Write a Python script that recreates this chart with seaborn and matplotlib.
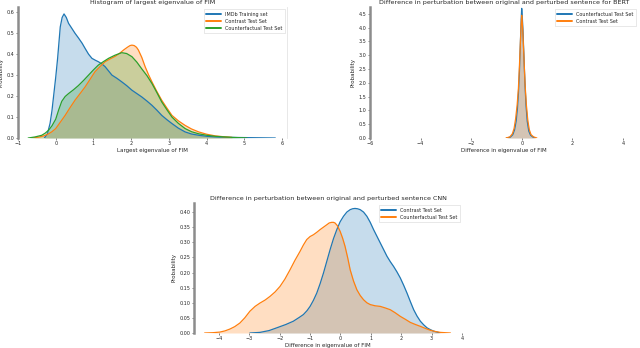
import numpy as np
import pandas as pd
import matplotlib
matplotlib.use("Agg")
import matplotlib.pyplot as plt
import seaborn as sns

# ---------------- data ----------------
# Panel 1: largest eigenvalue of FIM
p1_imdb_x = [-0.30, -0.22, -0.15, -0.10, -0.05, 0.0, 0.05, 0.12, 0.17, 0.22, 0.28, 0.34,
             0.42, 0.51, 0.60, 0.70, 0.78, 0.87, 0.96, 1.05, 1.13, 1.22, 1.31, 1.40, 1.49,
             1.62, 1.75, 1.88, 2.02, 2.15, 2.28, 2.42, 2.55, 2.68, 2.81, 2.95, 3.08, 3.25,
             3.43, 3.60, 3.79, 4.0, 4.23, 4.6, 5.0, 5.4, 5.82]
p1_imdb_y = [0.0, 0.02, 0.07, 0.13, 0.21, 0.29, 0.38, 0.53, 0.575, 0.592, 0.575, 0.547,
             0.525, 0.50, 0.478, 0.452, 0.427, 0.40, 0.38, 0.371, 0.364, 0.354, 0.34, 0.32,
             0.30, 0.285, 0.268, 0.25, 0.228, 0.212, 0.196, 0.176, 0.156, 0.133, 0.108,
             0.087, 0.069, 0.047, 0.029, 0.019, 0.013, 0.008, 0.005, 0.003, 0.002, 0.001, 0.0]
p1_contrast_x = [-0.64, -0.45, -0.3, -0.19, -0.1, 0.0, 0.12, 0.25, 0.38, 0.51, 0.65, 0.78,
                 0.91, 1.04, 1.18, 1.31, 1.45, 1.58, 1.70, 1.80, 1.90, 1.97, 2.02, 2.08,
                 2.14, 2.19, 2.28, 2.37, 2.46, 2.55, 2.68, 2.81, 2.95, 3.08, 3.25, 3.43,
                 3.60, 3.79, 4.0, 4.23, 4.45, 4.67]
p1_contrast_y = [0.0, 0.004, 0.011, 0.02, 0.03, 0.045, 0.075, 0.108, 0.145, 0.18, 0.213,
                 0.244, 0.28, 0.316, 0.342, 0.364, 0.378, 0.39, 0.405, 0.42, 0.433, 0.441,
                 0.443, 0.441, 0.433, 0.42, 0.385, 0.34, 0.302, 0.268, 0.222, 0.18, 0.142,
                 0.108, 0.082, 0.06, 0.043, 0.029, 0.018, 0.01, 0.006, 0.003]
p1_counter_x = [-0.73, -0.55, -0.37, -0.28, -0.19, -0.1, 0.0, 0.08, 0.16, 0.25, 0.34, 0.47,
                0.60, 0.74, 0.87, 1.0, 1.13, 1.27, 1.40, 1.57, 1.75, 1.88, 2.02, 2.15, 2.28,
                2.42, 2.55, 2.68, 2.81, 2.95, 3.08, 3.25, 3.43, 3.60, 3.79, 4.0, 4.23, 4.67,
                5.07]
p1_counter_y = [0.0, 0.005, 0.013, 0.023, 0.037, 0.058, 0.09, 0.135, 0.175, 0.198, 0.212,
                0.23, 0.25, 0.275, 0.30, 0.325, 0.348, 0.365, 0.38, 0.395, 0.407, 0.403,
                0.388, 0.362, 0.33, 0.297, 0.26, 0.217, 0.172, 0.134, 0.10, 0.07, 0.045,
                0.03, 0.02, 0.013, 0.008, 0.003, 0.0]

# Panel 2: BERT difference
p2_counter_x = [-0.6, -0.45, -0.35, -0.28, -0.22, -0.17, -0.13, -0.09, -0.05, -0.02, 0.0,
                0.02, 0.05, 0.09, 0.13, 0.17, 0.22, 0.28, 0.35, 0.45, 0.55]
p2_counter_y = [0.0, 0.03, 0.12, 0.3, 0.6, 1.05, 1.6, 2.4, 3.5, 4.3, 4.7, 4.45, 3.9, 2.9,
                1.95, 1.2, 0.6, 0.25, 0.1, 0.03, 0.0]
p2_contrast_x = [-0.62, -0.47, -0.37, -0.3, -0.24, -0.18, -0.13, -0.09, -0.05, -0.02, 0.0,
                 0.02, 0.05, 0.09, 0.13, 0.18, 0.24, 0.3, 0.37, 0.47, 0.6]
p2_contrast_y = [0.0, 0.04, 0.15, 0.35, 0.7, 1.2, 1.8, 2.6, 3.5, 4.15, 4.45, 4.25, 3.75,
                 2.9, 2.0, 1.25, 0.65, 0.3, 0.12, 0.04, 0.0]

# Panel 3: CNN difference
p3_contrast_x = [-2.98, -2.65, -2.35, -2.1, -1.8, -1.55, -1.35, -1.22, -1.1, -1.0, -0.89,
                 -0.78, -0.67, -0.56, -0.45, -0.34, -0.23, -0.12, -0.01, 0.1, 0.21, 0.32,
                 0.40, 0.48, 0.56, 0.65, 0.76, 0.87, 0.98, 1.09, 1.2, 1.31, 1.42, 1.53,
                 1.64, 1.75, 1.86, 1.97, 2.08, 2.19, 2.3, 2.41, 2.52, 2.63, 2.74, 2.85,
                 2.96, 3.07, 3.18, 3.29]
p3_contrast_y = [0.0, 0.002, 0.008, 0.017, 0.028, 0.039, 0.052, 0.061, 0.074, 0.088, 0.108,
                 0.132, 0.163, 0.198, 0.237, 0.276, 0.312, 0.342, 0.368, 0.386, 0.4, 0.408,
                 0.411, 0.412, 0.411, 0.408, 0.4, 0.386, 0.366, 0.342, 0.32, 0.298, 0.276,
                 0.254, 0.236, 0.22, 0.202, 0.182, 0.158, 0.132, 0.104, 0.077, 0.056, 0.039,
                 0.027, 0.017, 0.011, 0.006, 0.003, 0.0]
p3_counter_x = [-4.47, -4.2, -3.97, -3.8, -3.64, -3.48, -3.31, -3.15, -2.98, -2.81, -2.65,
                -2.48, -2.32, -2.15, -1.99, -1.83, -1.66, -1.5, -1.33, -1.22, -1.11, -1.0,
                -0.89, -0.78, -0.67, -0.56, -0.45, -0.37, -0.29, -0.23, -0.18, -0.1, -0.01,
                0.07, 0.15, 0.24, 0.32, 0.43, 0.54, 0.65, 0.76, 0.87, 0.98, 1.14, 1.31, 1.47,
                1.64, 1.8, 1.97, 2.14, 2.30, 2.47, 2.63, 2.8, 2.96, 3.12, 3.29, 3.45, 3.62]
p3_counter_y = [0.0, 0.001, 0.003, 0.007, 0.013, 0.021, 0.033, 0.05, 0.072, 0.088, 0.099,
                0.109, 0.121, 0.136, 0.154, 0.178, 0.209, 0.24, 0.27, 0.291, 0.309, 0.319,
                0.325, 0.333, 0.342, 0.35, 0.358, 0.364, 0.366, 0.366, 0.364, 0.355, 0.336,
                0.314, 0.287, 0.248, 0.209, 0.172, 0.143, 0.124, 0.11, 0.1, 0.094, 0.09,
                0.088, 0.083, 0.077, 0.067, 0.055, 0.045, 0.035, 0.028, 0.022, 0.015, 0.009,
                0.005, 0.002, 0.001, 0.0]

BLUE, ORANGE, GREEN = "#1f77b4", "#ff7f0e", "#2ca02c"

sns.set_theme(style="ticks")
plt.rcParams["font.family"] = ["DejaVu Sans"]

W, H = 640, 348
fig = plt.figure(figsize=(6.4, 3.48), dpi=100)


def make_ax(l, r, t, b):
    return fig.add_axes([l / W, 1 - b / H, (r - l) / W, (b - t) / H])


def draw(ax, xs, ys, color, label):
    df = pd.DataFrame({"x": xs, "y": ys})
    ax.fill_between(df["x"], df["y"], color=color, alpha=0.25, linewidth=0)
    sns.lineplot(data=df, x="x", y="y", ax=ax, color=color, linewidth=0.9, label=label)


def style(ax, title, xlabel, ylabel, right_spine=False):
    ax.set_title(title, fontsize=4.6, pad=2)
    ax.set_xlabel(xlabel, fontsize=4, labelpad=1)
    ax.set_ylabel(ylabel, fontsize=4, labelpad=2)
    ax.tick_params(labelsize=3.5, length=1.5, width=0.4, pad=1)
    for s in ["top", "bottom"]:
        ax.spines[s].set_visible(False)
    ax.spines["right"].set_visible(right_spine)
    ax.spines["right"].set_color("#e4e4e4")
    ax.spines["right"].set_linewidth(0.6)
    ax.spines["left"].set_color("#8c8c8c")
    ax.spines["left"].set_linewidth(1.8)
    leg = ax.legend(loc="upper right", fontsize=3.5, frameon=True, fancybox=False,
                    handlelength=3, borderpad=0.5, labelspacing=0.4)
    leg.get_frame().set_linewidth(0.4)
    leg.get_frame().set_edgecolor("#cccccc")
    for line in leg.get_lines():
        line.set_linewidth(1.4)


# Panel 1
ax1 = make_ax(18, 287, 7, 138)
draw(ax1, p1_imdb_x, p1_imdb_y, BLUE, "IMDb Training set")
draw(ax1, p1_contrast_x, p1_contrast_y, ORANGE, "Contrast Test Set")
draw(ax1, p1_counter_x, p1_counter_y, GREEN, "Counterfactual Test Set")
ax1.set_xlim(-1, 6.13)
ax1.set_ylim(0, 0.625)
ax1.set_xticks(range(-1, 7))
ax1.set_yticks([0.0, 0.1, 0.2, 0.3, 0.4, 0.5, 0.6])
style(ax1, "Histogram of largest eigenvalue of FIM", "Largest eigenvalue of FIM", "Probability",
      right_spine=True)

# Panel 2
ax2 = make_ax(370, 638, 7, 138)
draw(ax2, p2_counter_x, p2_counter_y, BLUE, "Counterfactual Test Set")
draw(ax2, p2_contrast_x, p2_contrast_y, ORANGE, "Contrast Test Set")
ax2.set_xlim(-6, 4.6)
ax2.set_ylim(0, 4.75)
ax2.set_xticks([-6, -4, -2, 0, 2, 4])
ax2.set_yticks([0.0, 0.5, 1.0, 1.5, 2.0, 2.5, 3.0, 3.5, 4.0, 4.5])
style(ax2, "Difference in perturbation between original and perturbed sentence for BERT",
      "Difference in eigenvalue of FIM", "Probability")

# Panel 3
ax3 = make_ax(194, 462, 203, 333)
draw(ax3, p3_contrast_x, p3_contrast_y, BLUE, "Contrast Test Set")
draw(ax3, p3_counter_x, p3_counter_y, ORANGE, "Counterfactual Test Set")
ax3.set_xlim(-4.82, 4.0)
ax3.set_ylim(0, 0.43)
ax3.set_xticks(range(-4, 5))
ax3.set_yticks([0.0, 0.05, 0.1, 0.15, 0.2, 0.25, 0.3, 0.35, 0.4])
ax3.yaxis.set_major_formatter(matplotlib.ticker.FormatStrFormatter("%.2f"))
style(ax3, "Difference in perturbation between original and perturbed sentence CNN",
      "Difference in eigenvalue of FIM", "Probability")

fig.savefig("out.png", dpi=100)
